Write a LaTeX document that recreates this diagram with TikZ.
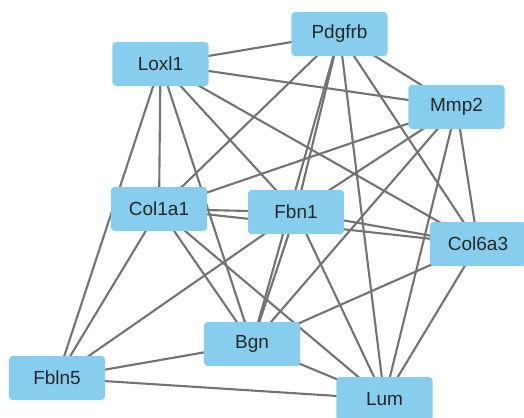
\documentclass[tikz,border=0pt]{standalone}
\usepackage{fontspec}
\setmainfont{Liberation Sans}
\usetikzlibrary{backgrounds}

\definecolor{genefill}{RGB}{135,206,238}
\definecolor{linkgray}{RGB}{115,115,115}

\begin{document}
\begin{tikzpicture}[
  x=0.025cm, y=-0.025cm,
  gene/.style={fill=genefill, rounded corners=2.5pt,
               minimum width=2.4cm, minimum height=1.1cm,
               font=\fontsize{13.5}{15}\selectfont, text=black!85, inner sep=2pt},
  link/.style={draw=linkgray, line width=1.5pt},
]
\useasboundingbox (0,0) rectangle (524,417);
\clip (0,0) rectangle (524,417);

%% ---- Genes ----
\node[gene] (pdg) at (339.5, 34)  {Pdgfrb};
\node[gene] (lox) at (160.5, 64)  {Loxl1};
\node[gene] (mmp) at (456.5, 107) {Mmp2};
\node[gene] (c1a) at (159, 209)   {Col1a1};
\node[gene] (fbn) at (296, 212)   {Fbn1};
\node[gene] (c6a) at (478, 244)   {Col6a3};
\node[gene] (bgn) at (252, 344)   {Bgn};
\node[gene] (fb5) at (57, 378)    {Fbln5};
\node[gene] (lum) at (384.5, 399) {Lum};

%% ---- Interactions ----
\begin{scope}[on background layer]
\foreach \a/\b in {lox/pdg, lox/mmp, lox/c1a, lox/fbn, lox/c6a, lox/bgn, lox/fb5,
                   pdg/mmp, pdg/c1a, pdg/fbn, pdg/c6a, pdg/bgn, pdg/lum,
                   mmp/c1a, mmp/fbn, mmp/c6a, mmp/bgn, mmp/lum,
                   c1a/fbn, c1a/c6a, c1a/bgn, c1a/lum, c1a/fb5,
                   fbn/c6a, fbn/bgn, fbn/lum, fbn/fb5,
                   c6a/bgn, c6a/lum,
                   bgn/fb5, bgn/lum, fb5/lum}
  \draw[link] (\a.center) -- (\b.center);
\end{scope}

\end{tikzpicture}
\end{document}
